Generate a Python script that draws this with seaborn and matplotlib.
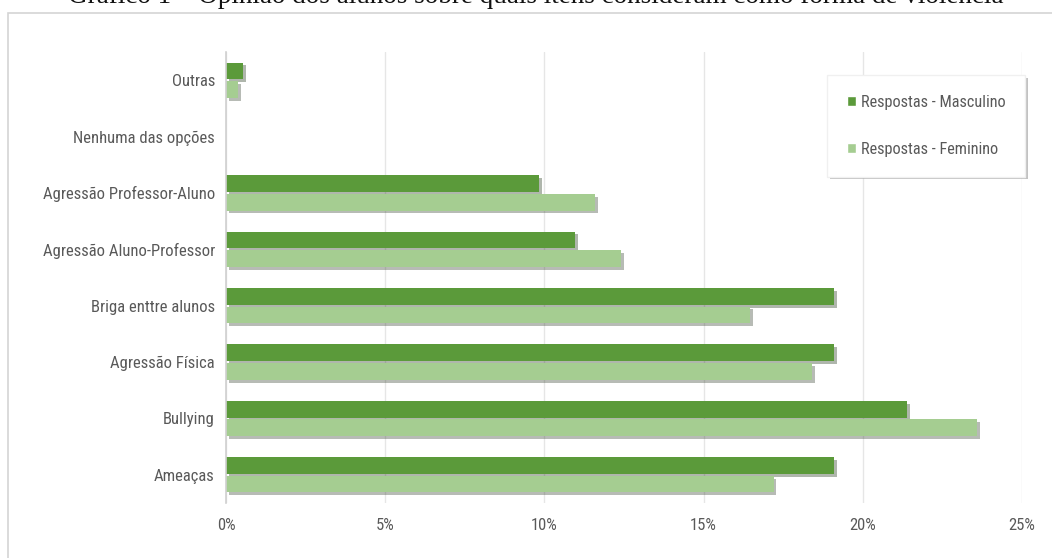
import matplotlib
matplotlib.use("Agg")
import matplotlib.pyplot as plt
import matplotlib.patheffects as pe
from matplotlib import font_manager
from matplotlib.ticker import PercentFormatter, MultipleLocator
from matplotlib.patches import Rectangle
import seaborn as sns
import pandas as pd

categories = ["Outras", "Nenhuma das opções", "Agressão Professor-Aluno",
              "Agressão Aluno-Professor", "Briga enttre alunos", "Agressão Física",
              "Bullying", "Ameaças"]
masculino = [0.53, 0.0, 9.83, 10.96, 19.1, 19.1, 21.4, 19.1]
feminino = [0.38, 0.0, 11.6, 12.4, 16.46, 18.4, 23.6, 17.2]
series = ["Respostas - Masculino", "Respostas - Feminino"]
title = "Gráfico 1 – Opinião dos alunos sobre quais itens consideram como forma de violência"

df = pd.DataFrame({
    "cat": categories * 2,
    "val": masculino + feminino,
    "serie": [series[0]] * len(categories) + [series[1]] * len(categories),
})

sns.set_theme(style="white")
avail = {f.name for f in font_manager.fontManager.ttflist}
main_font = next((f for f in ["Liberation Sans Narrow", "Roboto Condensed",
                              "Open Sans Condensed", "Lato", "Roboto"] if f in avail),
                 "DejaVu Sans")
plt.rcParams["font.family"] = [main_font, "DejaVu Sans"]

fig = plt.figure(figsize=(10.52, 5.58), dpi=100)
ax = fig.add_axes([226/1052, 1-503/558, (1022-226)/1052, (503-52)/558])

palette = {series[0]: "#5b9a3a", series[1]: "#a5cd91"}
sns.barplot(data=df, y="cat", x="val", hue="serie", order=categories,
            hue_order=series, palette=palette, orient="h", width=0.66,
            gap=0.1, ax=ax, errorbar=None, saturation=1)

ax.set_xlim(0, 25)
ax.xaxis.set_major_locator(MultipleLocator(5))
ax.xaxis.set_major_formatter(PercentFormatter(decimals=0))
ax.grid(axis="x", color="#e6e6e6", linewidth=1)
ax.set_axisbelow(True)
for s in ["top", "right", "bottom"]:
    ax.spines[s].set_visible(False)
ax.spines["left"].set_color("#d0d0d0")
ax.spines["left"].set_linewidth(1.2)
ax.set_xlabel("")
ax.set_ylabel("")
ax.tick_params(axis="both", length=0, labelsize=12, labelcolor="#595959")
ax.tick_params(axis="x", pad=11)
ax.tick_params(axis="y", pad=8)

leg = ax.legend(loc="upper left", bbox_to_anchor=(827/1052, 1-75/558),
                bbox_transform=fig.transFigure, frameon=True,
                shadow={"color": "#9a9a9a", "alpha": 0.6, "linewidth": 0},
                fontsize=11.7, labelspacing=2.0, handlelength=0.6, handleheight=0.6,
                borderpad=1.2, handletextpad=0.3, borderaxespad=0, fancybox=False)
leg.get_frame().set_edgecolor("#f0f0f0")
for t in leg.get_texts():
    t.set_color("#595959")

for p in ax.patches:
    p.set_path_effects([pe.SimplePatchShadow(offset=(2, -2), alpha=0.35), pe.Normal()])
    p.set_edgecolor("none")

fig.add_artist(Rectangle((8/1052, -0.05), 1060/1052, 1-13/558+0.05,
                         transform=fig.transFigure, fill=False,
                         edgecolor="#d4d4d4", linewidth=1.2))

fig.text(536/1052, 1-3/558, title, ha="center", va="baseline",
         fontsize=19.5, family=["Liberation Serif", "DejaVu Serif"], color="#111111")

fig.savefig("out.png", dpi=100)
